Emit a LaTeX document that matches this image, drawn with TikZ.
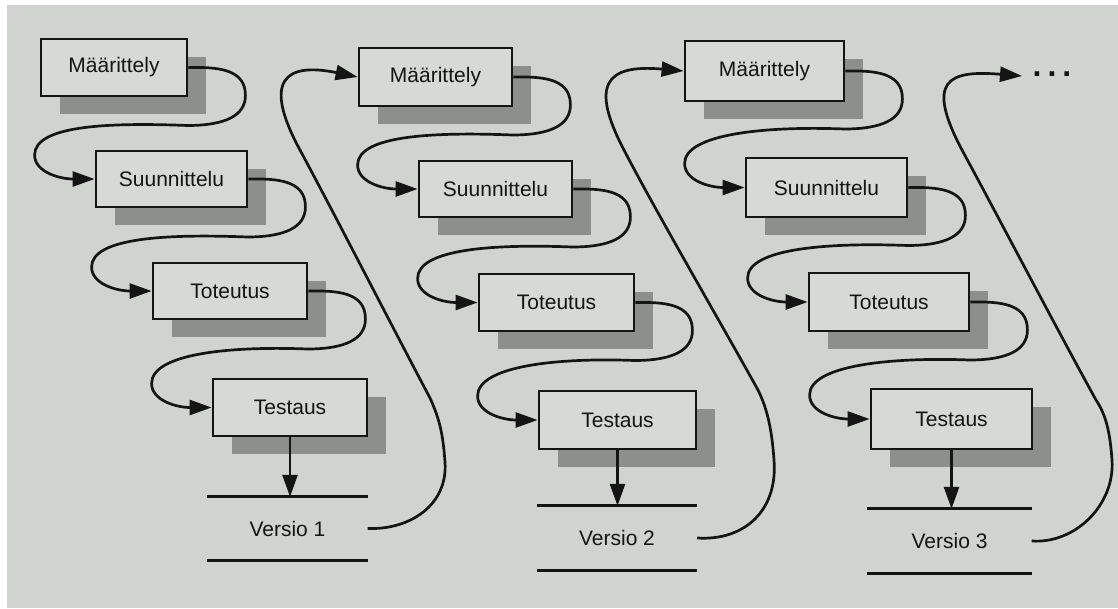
\documentclass[tikz,border=0pt]{standalone}
\usepackage{fontspec}
\setmainfont{Liberation Sans}
\usetikzlibrary{arrows.meta,calc,shadows}
\definecolor{bg}{HTML}{D0D3CF}
\definecolor{boxfill}{HTML}{D6D9D5}
\definecolor{shadowc}{HTML}{8C8F8B}
\definecolor{ink}{HTML}{141414}
\newcommand\sconn[2]{%
  \draw[conn] (#1.east) -- ($(#1.east)+(10,0)$)
    .. controls ($(#1.east)+(42,0)$) and ($(#1.east)+(57,8)$) .. ($(#1.east)+(57,28)$)
    .. controls ($(#1.east)+(57,48)$) and ($(#1.east)+(37,58)$) .. ($(#1.east)+(-1,58)$)
    .. controls ($(#1.east)+(-78,55)$) and ($(#2.west)+(-60,-54)$) .. ($(#2.west)+(-60,-24)$)
    .. controls ($(#2.west)+(-60,-7)$) and ($(#2.west)+(-35,0)$) .. (#2.west);}
\begin{document}
\begin{tikzpicture}[x=1pt,y=-1pt,
  stagebox/.style 2 args={draw=ink, line width=2.8pt, fill=boxfill, inner sep=0pt,
    minimum width=#1pt, minimum height=#2pt, font=\fontsize{21}{25}\selectfont, text=ink,
    general shadow={fill=shadowc, shadow xshift=19pt, shadow yshift=-18pt}},
  version/.style 2 args={inner sep=0pt, minimum width=#1pt, minimum height=#2pt,
    font=\fontsize{21}{25}\selectfont, text=ink},
  vline/.style={draw=ink, line width=3pt},
  conn/.style={draw=ink, line width=2.7pt, -{Triangle[length=22pt,width=15pt]}},
  dotsstyle/.style={inner sep=0pt, font=\bfseries\fontsize{32}{36}\selectfont, text=ink}]
\useasboundingbox (0,0) rectangle (1118,608);
\fill[white] (0,0) rectangle (1118,608);
\fill[bg] (7,5) rectangle (1118,608);

% column 1
\node[stagebox={146}{57}] (M1) at (114,67.5) {Määrittely};
\node[stagebox={151}{56}] (S1) at (171.5,179) {Suunnittelu};
\node[stagebox={154}{56}] (T1) at (230,291) {Toteutus};
\node[stagebox={154}{57}] (E1) at (290,407.5) {Testaus};
\node[version={160}{63}] (V1) at (287.5,528.5) {Versio 1};

% column 2
\node[stagebox={153}{58}] (M2) at (435.5,77) {Määrittely};
\node[stagebox={153}{56}] (S2) at (495.5,189) {Suunnittelu};
\node[stagebox={155}{57}] (T2) at (556.5,302.5) {Toteutus};
\node[stagebox={157}{58}] (E2) at (617.5,420) {Testaus};
\node[version={160}{64}] (V2) at (617,538) {Versio 2};

% column 3
\node[stagebox={159}{60}] (M3) at (764.5,71) {Määrittely};
\node[stagebox={161}{59}] (S3) at (826.5,187.5) {Suunnittelu};
\node[stagebox={160}{58}] (T3) at (889,302) {Toteutus};
\node[stagebox={161}{60}] (E3) at (951.5,419) {Testaus};
\node[version={164}{64}] (V3) at (949.5,541) {Versio 3};

\node[dotsstyle] (dots) at (1052,74) {.\hspace{6pt}.\hspace{6pt}.};
\coordinate (c3end) at (1022,76);

% version lines
\foreach \v in {V1,V2,V3}{
  \draw[vline] (\v.north west) -- (\v.north east);
  \draw[vline] (\v.south west) -- (\v.south east);
}

% S connectors
\sconn{M1}{S1}
\sconn{S1}{T1}
\sconn{T1}{E1}
\sconn{M2}{S2}
\sconn{S2}{T2}
\sconn{T2}{E2}
\sconn{M3}{S3}
\sconn{S3}{T3}
\sconn{T3}{E3}

% down arrows
\draw[conn] (E1.south) -- (E1.south |- V1.north);
\draw[conn] (E2.south) -- (E2.south |- V2.north);
\draw[conn] (E3.south) -- (E3.south |- V3.north);

% big connectors
\draw[conn] (V1.east) .. controls (410,530) and (448,505) .. (445,462)
  .. controls (443,435) and (440,420) .. (430,398)
  .. controls (395,332) and (335,215) .. (300,150)
  .. controls (262,80) and (285,62) .. (M2.west);
\draw[conn] (V2.east) .. controls (745,541) and (778,510) .. (774,460)
  .. controls (772,432) and (768,410) .. (758,390)
  .. controls (722,325) and (655,210) .. (624,150)
  .. controls (590,85) and (605,64) .. (M3.west);
\draw[conn] (V3.east) .. controls (1075,544) and (1115,505) .. (1112,460)
  .. controls (1110,432) and (1106,415) .. (1096,400)
  .. controls (1059,333) and (993,207) .. (962,150)
  .. controls (925,80) and (948,70) .. (c3end);
\end{tikzpicture}
\end{document}
